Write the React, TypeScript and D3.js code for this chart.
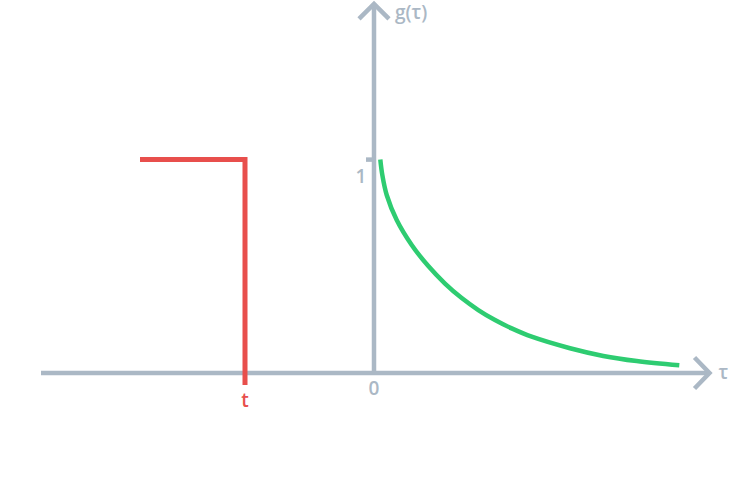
import React from "react";
import * as d3 from "d3";

// Green response curve g(τ)
const tauValues = [0.063, 0.083, 0.127, 0.227, 0.377, 0.543, 0.71, 0.877, 1.043, 1.21, 1.377, 1.577, 1.96, 2.293, 2.627, 3.053];
const gValues = [1.0, 0.928, 0.834, 0.717, 0.6, 0.501, 0.419, 0.351, 0.295, 0.248, 0.209, 0.17, 0.116, 0.08, 0.056, 0.036];

// Red step (input) ending at τ = t
const stepStart = -2.34;
const stepT = -1.29;
const stepLevel = 1;

// Axis extents and labels
const xDomain = [-3.33, 3.355];
const yDomain = [0, 1.73];
const xTickLabels = [{ value: 0, text: "0" }];
const yTickLabels = [{ value: 1, text: "1" }];
const xAxisLabel = "τ";
const yAxisLabel = "g(τ)";
const stepLabel = "t";

const AXIS = "#abb8c5";
const RED = "#e84f4c";
const GREEN = "#2ecc71";
const FONT = "'Open Sans', 'DejaVu Sans', sans-serif";

export default function App() {
  const W = 750;
  const H = 482;
  const xs = d3.scaleLinear().domain(xDomain).range([374 + xDomain[0] * 100, 374 + xDomain[1] * 100]);
  const ys = d3.scaleLinear().domain([0, 1]).range([373, 159.6]);

  const x0 = xs(0);
  const y0 = ys(0);
  const xEnd = xs(xDomain[1]);
  const yTop = ys(yDomain[1]);

  const line = d3
    .line<number>()
    .x((_, i) => xs(tauValues[i]))
    .y((d) => ys(d))
    .curve(d3.curveCatmullRom.alpha(0.5));

  const stepPath = `M${xs(stepStart)},${ys(stepLevel)} H${xs(stepT)} V${y0 + 12}`;
  const fs = 19;
  const fw = 600;

  return (
    <svg
      width={W}
      height={H}
      style={{ position: "absolute", left: 0, top: 0, display: "block", background: "#fff" }}
    >
      {/* horizontal axis */}
      <line x1={xs(xDomain[0])} y1={y0} x2={xEnd} y2={y0} stroke={AXIS} strokeWidth={4.5} />
      <path
        d={`M${xEnd - 15},${y0 - 15.5} L${xEnd},${y0} L${xEnd - 15},${y0 + 15.5}`}
        fill="none"
        stroke={AXIS}
        strokeWidth={4.5}
        strokeLinejoin="miter"
      />
      {/* vertical axis */}
      <line x1={x0} y1={y0} x2={x0} y2={yTop} stroke={AXIS} strokeWidth={4.5} />
      <path
        d={`M${x0 - 15},${yTop + 15} L${x0},${yTop} L${x0 + 15},${yTop + 15}`}
        fill="none"
        stroke={AXIS}
        strokeWidth={4.5}
        strokeLinejoin="miter"
      />
      {/* y ticks */}
      {yTickLabels.map((t) => (
        <g key={t.text}>
          <line x1={x0 - 8} x2={x0} y1={ys(t.value)} y2={ys(t.value)} stroke={AXIS} strokeWidth={4.5} />
          <text x={x0 - 13} y={ys(t.value) + 23} fill={AXIS} fontFamily={FONT} fontSize={fs} fontWeight={fw} textAnchor="middle">
            {t.text}
          </text>
        </g>
      ))}
      {xTickLabels.map((t) => (
        <text key={t.text} x={xs(t.value)} y={y0 + 22} fill={AXIS} fontFamily={FONT} fontSize={fs} fontWeight={fw} textAnchor="middle">
          {t.text}
        </text>
      ))}
      <text x={xEnd + 9} y={y0 + 6} fill={AXIS} fontFamily={FONT} fontSize={fs} fontWeight={fw}>
        {xAxisLabel}
      </text>
      <text x={x0 + 21} y={yTop + 15.5} fill={AXIS} fontFamily={FONT} fontSize={fs} fontWeight={fw}>
        {yAxisLabel}
      </text>

      {/* red step */}
      <path d={stepPath} fill="none" stroke={RED} strokeWidth={5} strokeLinejoin="miter" />
      <text x={xs(stepT)} y={y0 + 34} fill={RED} fontFamily={FONT} fontSize={fs} fontWeight={fw} textAnchor="middle">
        {stepLabel}
      </text>

      {/* green curve */}
      <path d={line(gValues) || ""} fill="none" stroke={GREEN} strokeWidth={4.5} />
    </svg>
  );
}
